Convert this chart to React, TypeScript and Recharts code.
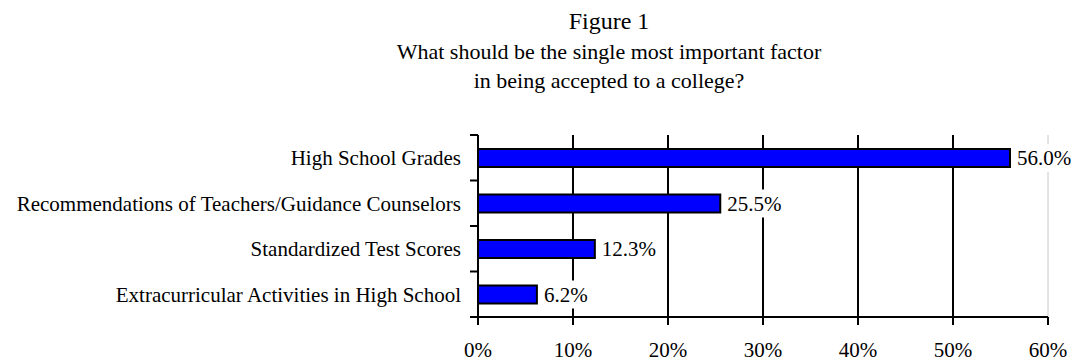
import React from "react";
import { Bar, BarChart, LabelList, ReferenceLine, XAxis, YAxis } from "recharts";

const categories = [
  "High School Grades",
  "Recommendations of Teachers/Guidance Counselors",
  "Standardized Test Scores",
  "Extracurricular Activities in High School",
];
const shares = [56.0, 25.5, 12.3, 6.2];
const xTicks = [0, 10, 20, 30, 40, 50, 60];
const gridValues = [10, 20, 30, 40, 50];
const titleLines = [
  "Figure 1",
  "What should be the single most important factor",
  "in being accepted to a college?",
];

const FONT = '"Liberation Serif", "Times New Roman", serif';
const LABEL_SIZE = 21;

const data = categories.map((name, i) => ({ name, value: shares[i] }));

const fmt = (v: any) => `${Number(v).toFixed(1)}%`;

// rough Times width of a "12.3%" style string
const textWidth = (s: string) =>
  s.split("").reduce((w, c) => w + (c === "%" ? 0.833 : c === "." ? 0.25 : 0.5), 0) * LABEL_SIZE;

// category label plus Excel-style tick marks on the band boundaries
function CategoryTick(props: any) {
  const { x, y, payload, index } = props;
  const half = payload?.offset || 22.75;
  const ax = x + 17;
  return (
    <g>
      <text x={x} y={y} dy="0.35em" textAnchor="end" fontFamily={FONT} fontSize={21} fill="#000">
        {payload.value}
      </text>
      <line x1={ax - 8} x2={ax} y1={y + half} y2={y + half} stroke="#000" strokeWidth={2} />
      {index === 0 && <line x1={ax - 8} x2={ax} y1={y - half} y2={y - half} stroke="#000" strokeWidth={2} />}
    </g>
  );
}

// opaque data label, like Excel's
function ValueLabel(props: any) {
  const { x, y, width, height, value } = props;
  const s = fmt(value);
  const tx = Number(x) + Number(width) + 7;
  const cy = Number(y) + Number(height) / 2;
  const w = textWidth(s);
  return (
    <g>
      <rect x={tx - 2} y={cy - 14} width={w + 4} height={28} fill="#fff" />
      <text x={tx} y={cy} dy="0.35em" fontFamily={FONT} fontSize={LABEL_SIZE} fill="#000">
        {s}
      </text>
    </g>
  );
}

export default function App() {
  return (
    <div style={{ position: "absolute", left: 0, top: 0, width: 1072, height: 361, background: "#fff" }}>
      <svg width={1072} height={100} style={{ position: "absolute", left: 0, top: 0 }}>
        <text x={609} y={29} textAnchor="middle" fontFamily={FONT} fontSize={24} fill="#000">
          {titleLines[0]}
        </text>
        <text x={609} y={59} textAnchor="middle" fontFamily={FONT} fontSize={22} fill="#000">
          {titleLines[1]}
        </text>
        <text x={609} y={88} textAnchor="middle" fontFamily={FONT} fontSize={22} fill="#000">
          {titleLines[2]}
        </text>
      </svg>
      <div style={{ position: "absolute", left: 0, top: 0 }}>
        <BarChart
          width={1072}
          height={361}
          data={data}
          layout="vertical"
          margin={{ top: 135, right: 24, bottom: 0, left: 0 }}
          barSize={18}
        >
          {gridValues.map((v) => (
            <ReferenceLine key={v} x={v} stroke="#000" strokeWidth={2} zIndex={-100} />
          ))}
          <ReferenceLine x={60} stroke="#c8c8c8" strokeWidth={1} zIndex={-100} />
          <XAxis
            type="number"
            domain={[0, 60]}
            ticks={xTicks}
            tickFormatter={(v) => `${v}%`}
            axisLine={{ stroke: "#000", strokeWidth: 2 }}
            tickLine={{ stroke: "#000", strokeWidth: 2 }}
            tickSize={8}
            tickMargin={17}
            tick={{ fill: "#000", fontFamily: FONT, fontSize: 21 }}
            height={44}
          />
          <YAxis
            type="category"
            dataKey="name"
            width={478}
            axisLine={{ stroke: "#000", strokeWidth: 2 }}
            tickLine={false}
            tickSize={8}
            tickMargin={9}
            tick={<CategoryTick />}
            interval={0}
          />
          <Bar dataKey="value" fill="#0000ff" stroke="#000" strokeWidth={2} isAnimationActive={false}>
            <LabelList dataKey="value" content={<ValueLabel />} />
          </Bar>
        </BarChart>
      </div>
    </div>
  );
}
